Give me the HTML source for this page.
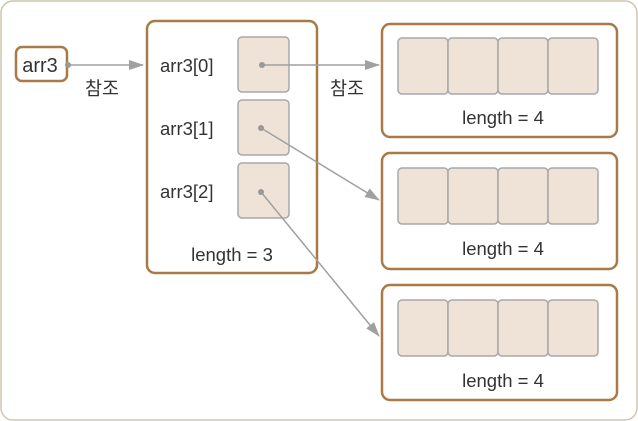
<!DOCTYPE html>
<html><head><meta charset="utf-8"><style>
html,body{margin:0;padding:0;background:#fff;}
svg{display:block;}
text{font-family:"Liberation Sans","Noto Sans CJK KR",sans-serif;fill:#333;font-size:18.5px;}
</style></head><body>
<svg width="638" height="421" viewBox="0 0 638 421">
<defs><marker id="ah" markerWidth="15" markerHeight="10" refX="14" refY="5" orient="auto" markerUnits="userSpaceOnUse"><path d="M0,0 L15,5 L0,10 Z" fill="#a0a0a0"/></marker></defs>
<rect x="1" y="1" width="636" height="419" rx="12" fill="#fff" stroke="#cfc6b2" stroke-width="1.5"/>
<g>
<rect x="16" y="47" width="51" height="34" rx="6" fill="#fff" stroke="#a87a45" stroke-width="2.5"/>
<text x="40" y="72" text-anchor="middle" style="font-size:20px">arr3</text>
</g>
<line x1="68" y1="65" x2="143" y2="65" stroke="#a0a0a0" stroke-width="1.5" marker-end="url(#ah)"/>
<circle cx="68" cy="65" r="3" fill="#999"/>
<text x="102" y="95" text-anchor="middle">참조</text>
<g>
<rect x="147" y="21" width="170" height="252" rx="8" fill="#fff" stroke="#a87a45" stroke-width="2.5"/>
<text x="160" y="72">arr3[0]</text>
<text x="160" y="135">arr3[1]</text>
<text x="160" y="198">arr3[2]</text>
<rect x="238" y="37" width="51" height="55" rx="4" fill="#efe3d8" stroke="#a8a8a8" stroke-width="1.5"/>
<rect x="238" y="100" width="51" height="55" rx="4" fill="#efe3d8" stroke="#a8a8a8" stroke-width="1.5"/>
<rect x="238" y="163" width="51" height="55" rx="4" fill="#efe3d8" stroke="#a8a8a8" stroke-width="1.5"/>
<text x="232" y="261" text-anchor="middle">length = 3</text>
</g>
<g>
<rect x="382" y="24" width="235" height="113" rx="8" fill="#fff" stroke="#a87a45" stroke-width="2.5"/>
<rect x="398" y="38" width="50" height="56" rx="4" fill="#efe3d8" stroke="#a8a8a8" stroke-width="1.5"/>
<rect x="448" y="38" width="50" height="56" rx="4" fill="#efe3d8" stroke="#a8a8a8" stroke-width="1.5"/>
<rect x="498" y="38" width="50" height="56" rx="4" fill="#efe3d8" stroke="#a8a8a8" stroke-width="1.5"/>
<rect x="548" y="38" width="50" height="56" rx="4" fill="#efe3d8" stroke="#a8a8a8" stroke-width="1.5"/>
<text x="503" y="124" text-anchor="middle">length = 4</text>
</g>
<g>
<rect x="382" y="153" width="235" height="116" rx="8" fill="#fff" stroke="#a87a45" stroke-width="2.5"/>
<rect x="398" y="168" width="50" height="56" rx="4" fill="#efe3d8" stroke="#a8a8a8" stroke-width="1.5"/>
<rect x="448" y="168" width="50" height="56" rx="4" fill="#efe3d8" stroke="#a8a8a8" stroke-width="1.5"/>
<rect x="498" y="168" width="50" height="56" rx="4" fill="#efe3d8" stroke="#a8a8a8" stroke-width="1.5"/>
<rect x="548" y="168" width="50" height="56" rx="4" fill="#efe3d8" stroke="#a8a8a8" stroke-width="1.5"/>
<text x="503" y="255" text-anchor="middle">length = 4</text>
</g>
<g>
<rect x="382" y="285" width="235" height="115" rx="8" fill="#fff" stroke="#a87a45" stroke-width="2.5"/>
<rect x="398" y="300" width="50" height="56" rx="4" fill="#efe3d8" stroke="#a8a8a8" stroke-width="1.5"/>
<rect x="448" y="300" width="50" height="56" rx="4" fill="#efe3d8" stroke="#a8a8a8" stroke-width="1.5"/>
<rect x="498" y="300" width="50" height="56" rx="4" fill="#efe3d8" stroke="#a8a8a8" stroke-width="1.5"/>
<rect x="548" y="300" width="50" height="56" rx="4" fill="#efe3d8" stroke="#a8a8a8" stroke-width="1.5"/>
<text x="503" y="387" text-anchor="middle">length = 4</text>
</g>
<g stroke="#a0a0a0" stroke-width="1.5" fill="none">
<line x1="262" y1="65" x2="379" y2="65" marker-end="url(#ah)"/>
<line x1="261" y1="128" x2="379" y2="200" marker-end="url(#ah)"/>
<line x1="261" y1="192" x2="379" y2="336" marker-end="url(#ah)"/>
</g>
<circle cx="262" cy="65" r="3" fill="#999"/>
<circle cx="261" cy="128" r="3" fill="#999"/>
<circle cx="261" cy="192" r="3" fill="#999"/>
<text x="347" y="95" text-anchor="middle">참조</text>
</svg>
</body></html>
